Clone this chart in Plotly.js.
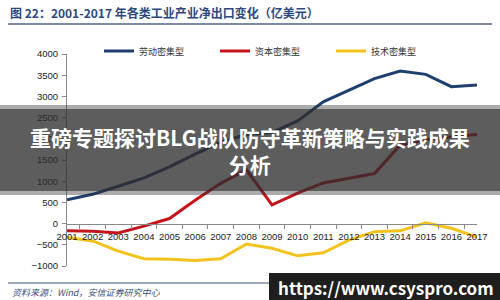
<!DOCTYPE html>
<html>
<head>
<meta charset="utf-8">
<script src="https://cdn.plot.ly/plotly-3.0.1.min.js"></script>
<style>html,body{margin:0;padding:0;background:#fff;}#chart{width:500px;height:300px;}</style>
</head>
<body>
<div id="chart"></div>
<script>
// ---- data ----
const years = ['2001','2002','2003','2004','2005','2006','2007','2008','2009','2010','2011','2012','2013','2014','2015','2016','2017'];
const laborIntensive   = [560, 690, 880, 1080, 1340, 1640, 1920, 2100, 2150, 2420, 2870, 3150, 3420, 3600, 3520, 3230, 3270];
const capitalIntensive = [-170, -180, -220, -60, 120, 550, 950, 1270, 440, 720, 960, 1070, 1180, 1850, 1980, 2050, 2100];
const techIntensive    = [-330, -410, -650, -830, -840, -870, -830, -480, -580, -760, -690, -390, -190, -170, 20, -110, -320];
const seriesNames = ['劳动密集型', '资本密集型', '技术密集型'];
const yRange = [-1000, 4000];
const titleText = '图 22：2001-2017 年各类工业产业净出口变化（亿美元）';
const sourceText = '资料来源：Wind，安信证券研究中心';
const bannerText = '重磅专题探讨BLG战队防守革新策略与实践成果<br>分析';
const watermarkText = 'https://www.csyspro.com';

// ---- layout helpers ----
const W = 500, H = 300;
const M = {l: 67, r: 23, t: 54, b: 34};
const PW = W - M.l - M.r, PH = H - M.t - M.b;
const px = x => (x - M.l) / PW;
const py = y => (H - M.b - y) / PH;
const CJK = '"Noto Sans CJK SC", "Noto Sans", sans-serif';
const NUM = '"Liberation Sans", Arial, sans-serif';

const colors = ['#1f3f6f', '#c4141c', '#f4c21c'];
const data = [laborIntensive, capitalIntensive, techIntensive].map((vals, i) => ({
  type: 'scatter', mode: 'lines', x: years, y: vals, name: seriesNames[i],
  line: {color: colors[i], width: 3}
}));

const layout = {
  width: W, height: H,
  margin: M,
  paper_bgcolor: '#fff', plot_bgcolor: '#fff',
  title: {
    text: '<b>' + titleText + '</b>',
    font: {family: CJK, size: 12, color: '#2c4a7e'},
    xref: 'container', yref: 'container', x: 10 / W, xanchor: 'left', y: 1 - 14 / H, yanchor: 'middle'
  },
  showlegend: true,
  legend: {
    orientation: 'h', x: px(99), xanchor: 'left', y: py(51), yanchor: 'middle',
    font: {family: CJK, size: 9, color: '#333'},
    entrywidth: 71, entrywidthmode: 'pixels', bgcolor: 'rgba(0,0,0,0)', itemwidth: 30
  },
  xaxis: {
    type: 'category', anchor: 'free', position: (0 - yRange[0]) / (yRange[1] - yRange[0]),
    showline: true, linecolor: '#8a8a8a', linewidth: 1,
    ticks: 'outside', tickson: 'boundaries', ticklen: 4, tickcolor: '#8a8a8a',
    showgrid: false, zeroline: false, tickangle: 0, ticklabelstandoff: 4,
    tickfont: {family: NUM, size: 9.5, color: '#222'}
  },
  yaxis: {
    range: yRange, dtick: 500, showline: true, linecolor: '#8a8a8a', linewidth: 1,
    ticks: 'outside', ticklen: 4, tickcolor: '#8a8a8a', showgrid: false, zeroline: false,
    tickfont: {family: NUM, size: 9.5, color: '#222'}, ticklabelstandoff: 2
  },
  shapes: [
    {type: 'line', xref: 'paper', yref: 'paper', x0: px(8), x1: px(492), y0: py(24), y1: py(24), line: {color: '#7d8ca6', width: 2}},
    {type: 'line', xref: 'paper', yref: 'paper', x0: px(8), x1: px(492), y0: py(283), y1: py(283), line: {color: '#7d8ca6', width: 1.5}},
    {type: 'rect', xref: 'paper', yref: 'paper', x0: px(0), x1: px(W), y0: py(195), y1: py(105), fillcolor: 'rgba(45,45,45,0.4)', line: {width: 0}, layer: 'above'},
    {type: 'rect', xref: 'paper', yref: 'paper', x0: px(0), x1: px(W), y0: py(191), y1: py(109), fillcolor: 'rgba(45,45,45,0.62)', line: {width: 0}, layer: 'above'},
    {type: 'rect', xref: 'paper', yref: 'paper', x0: px(269), x1: px(W), y0: py(H), y1: py(273), fillcolor: '#1e1e1e', line: {width: 0}, layer: 'above'}
  ],
  annotations: [
    {xref: 'paper', yref: 'paper', x: px(250), y: py(150), xanchor: 'center', yanchor: 'middle', showarrow: false,
     text: '<b>' + bannerText + '</b>', font: {family: CJK, size: 21, color: '#fff'}},
    {xref: 'paper', yref: 'paper', x: px(10), y: py(292), xanchor: 'left', yanchor: 'middle', showarrow: false,
     text: '<i>' + sourceText + '</i>', font: {family: CJK, size: 9, color: '#3d507c'}},
    {xref: 'paper', yref: 'paper', x: px(385.5), y: py(287), xanchor: 'center', yanchor: 'middle', showarrow: false,
     text: '<b>' + watermarkText + '</b>', font: {family: CJK, size: 17, color: '#fff'}}
  ]
};

Plotly.newPlot('chart', data, layout, {staticPlot: true, displayModeBar: false});
</script>
</body>
</html>
